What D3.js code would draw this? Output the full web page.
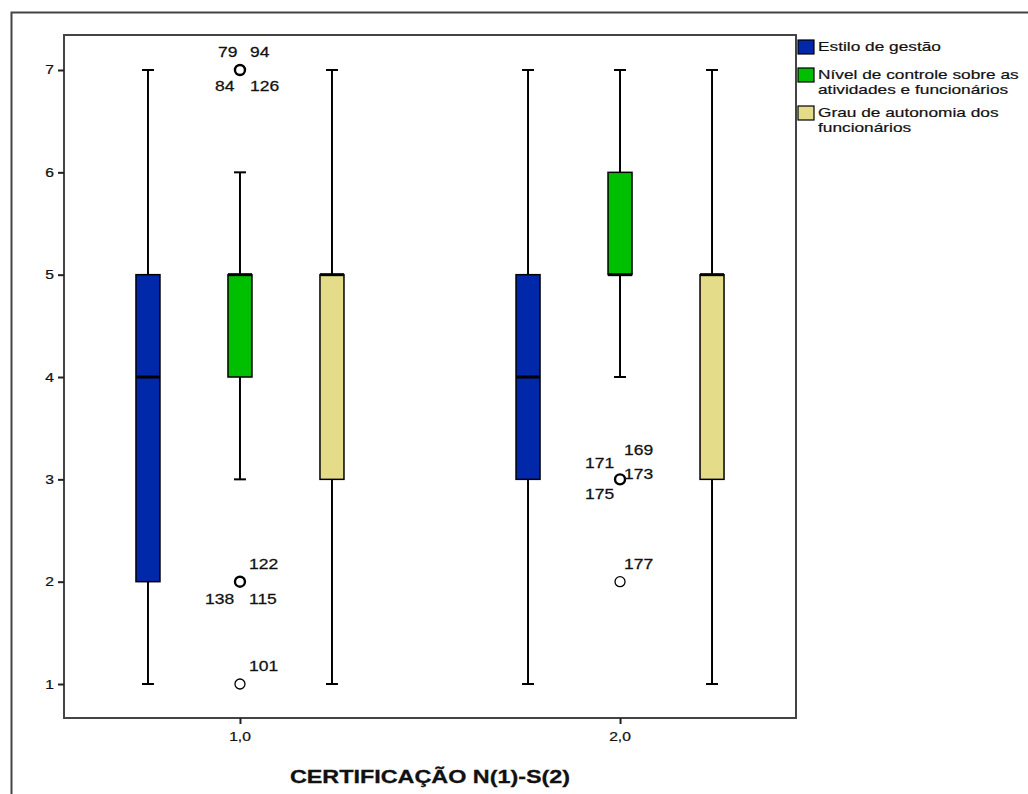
<!DOCTYPE html>
<html><head><meta charset="utf-8">
<script src="https://cdn.jsdelivr.net/npm/d3@7"></script>
<style>body{margin:0;background:#fff}svg{display:block}text{font-family:Arial,"Liberation Sans",sans-serif}</style>
</head><body><svg id="c" width="1028" height="794"></svg>
<script>
const groups = [1, 2];
const groupLabels = ["1,0", "2,0"];
const series = ["Estilo de gestão", "Nível de controle sobre as atividades e funcionários", "Grau de autonomia dos funcionários"];
const legendLines = [["Estilo de gestão"], ["Nível de controle sobre as", "atividades e funcionários"], ["Grau de autonomia dos", "funcionários"]];
const colors = ["#0028a8", "#00bf00", "#e4dc88"];
const yTicks = [1, 2, 3, 4, 5, 6, 7];
// five-number summaries [min, q1, median, q3, max] per group per series
const stats1 = [[1, 2, 4, 5, 7], [3, 4, 5, 5, 6], [1, 3, 5, 5, 7]];
const stats2 = [[1, 3, 4, 5, 7], [4, 5, 5, 6, 7], [1, 3, 5, 5, 7]];
// outliers: group, series index, value, labels [text, dx, dy], count
const outliers = [
  {g: 1, s: 1, v: 7, n: 4, labels: [["79", -22, -13], ["94", 10, -13], ["84", -25, 21], ["126", 10, 21]]},
  {g: 1, s: 1, v: 2, n: 3, labels: [["122", 9, -13], ["138", -35, 22], ["115", 9, 22]]},
  {g: 1, s: 1, v: 1, n: 1, labels: [["101", 9, -13]]},
  {g: 2, s: 1, v: 3, n: 4, labels: [["169", 4, -24], ["171", -35, -11], ["173", 4, 0], ["175", -35, 20]]},
  {g: 2, s: 1, v: 2, n: 1, labels: [["177", 4, -13]]}
];
const statsByGroup = [stats1, stats2];

const svg = d3.select("#c");
const L = 64, R = 796, T = 35, B = 718;
const x = d3.scaleLinear().domain([0.537, 2.463]).range([L, R]);
const off = d3.scaleBand().domain(d3.range(series.length)).range([-138, 138]);
const y = d3.scaleLinear().domain([0.668, 7.342]).range([B, T]);
const bw = 24;

function sText(parent, tx, ty, str, size, sx, opts = {}) {
  const g = parent.append("g").attr("transform", `translate(${tx},${ty}) scale(${sx},1)`);
  const t = g.append("text").attr("x", 0).attr("y", 0).attr("font-size", size).attr("fill", "#111")
    .attr("stroke", "#111").attr("stroke-width", opts.sw ?? 0.25).text(str);
  if (opts.anchor) t.attr("text-anchor", opts.anchor);
  if (opts.bold) t.attr("font-weight", "bold");
  return t;
}

// outer frame
svg.append("path").attr("d", `M11.5,1100 V12.5 H1100`).attr("fill", "none").attr("stroke", "#444").attr("stroke-width", 2);
// plot frame
svg.append("rect").attr("x", L).attr("y", T).attr("width", R - L).attr("height", B - T)
  .attr("fill", "#fff").attr("stroke", "#444").attr("stroke-width", 2);

// y axis
const yAx = svg.append("g").attr("transform", `translate(${L},0)`)
  .call(d3.axisLeft(y).tickValues(yTicks).tickSize(6).tickPadding(3).tickFormat(""));
yAx.select(".domain").remove();
yAx.selectAll("line").attr("stroke", "#222").attr("stroke-width", 2);
yTicks.forEach(v => sText(svg, L - 10, y(v) + 4.5, d3.format("d")(v), 13, 1.2, {anchor: "end"}));

// x axis
const xAx = svg.append("g").attr("transform", `translate(0,${B})`)
  .call(d3.axisBottom(x).tickValues(groups).tickSize(6).tickPadding(5).tickFormat(""));
xAx.select(".domain").remove();
xAx.selectAll("line").attr("stroke", "#222").attr("stroke-width", 2);
groups.forEach((g, i) => sText(svg, x(g), B + 23, groupLabels[i], 13, 1.2, {anchor: "middle"}));

sText(svg, 430, 783, "CERTIFICAÇÃO N(1)-S(2)", 19, 1.23, {anchor: "middle", bold: true, sw: 0.3});

// boxes
groups.forEach((g, gi) => {
  statsByGroup[gi].forEach((st, si) => {
    const cx = x(g) + off(si) + off.bandwidth() / 2;
    const [mn, q1, md, q3, mx] = st;
    const gg = svg.append("g");
    gg.append("line").attr("x1", cx).attr("x2", cx).attr("y1", y(mx)).attr("y2", y(q3)).attr("stroke", "#000").attr("stroke-width", 2);
    gg.append("line").attr("x1", cx).attr("x2", cx).attr("y1", y(q1)).attr("y2", y(mn)).attr("stroke", "#000").attr("stroke-width", 2);
    [mn, mx].forEach(v => gg.append("line").attr("x1", cx - 6).attr("x2", cx + 6).attr("y1", y(v)).attr("y2", y(v)).attr("stroke", "#000").attr("stroke-width", 2));
    gg.append("rect").attr("x", cx - bw / 2).attr("y", y(q3)).attr("width", bw).attr("height", y(q1) - y(q3))
      .attr("fill", colors[si]).attr("stroke", "#000").attr("stroke-width", 1.5);
    gg.append("line").attr("x1", cx - bw / 2).attr("x2", cx + bw / 2).attr("y1", y(md)).attr("y2", y(md)).attr("stroke", "#000").attr("stroke-width", 3);
  });
});

// outliers
outliers.forEach(o => {
  const cx = x(o.g) + off(o.s) + off.bandwidth() / 2;
  const cy = y(o.v);
  svg.append("circle").attr("cx", cx).attr("cy", cy).attr("r", 5).attr("fill", "none")
    .attr("stroke", "#000").attr("stroke-width", o.n > 1 ? 2.4 : 1.3);
  o.labels.forEach(([t, dx, dy]) => sText(svg, cx + dx, cy + dy, t, 14, 1.25));
});

// legend
const legY = [40, 68, 106];
legendLines.forEach((lines, i) => {
  svg.append("rect").attr("x", 798).attr("y", legY[i]).attr("width", 16).attr("height", 14)
    .attr("fill", colors[i]).attr("stroke", "#000").attr("stroke-width", 1.2);
  lines.forEach((ln, j) => sText(svg, 818, legY[i] + 11 + j * 15, ln, 13, 1.33, {sw: 0.2}));
});
</script></body></html>
